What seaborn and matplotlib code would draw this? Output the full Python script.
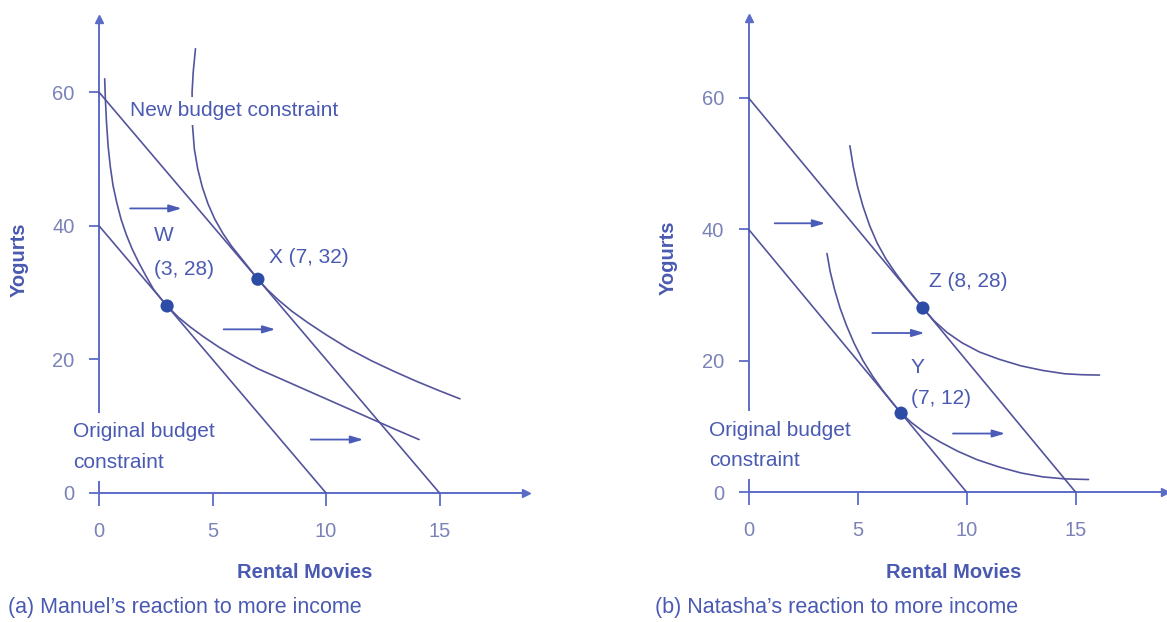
import matplotlib
matplotlib.use("Agg")
import matplotlib.pyplot as plt
import seaborn as sns

sns.set_style("white")
plt.rcParams["font.family"] = ["Liberation Sans", "DejaVu Sans"]

# budget constraints (same in both panels)
orig_budget_x = [0, 10]
orig_budget_y = [40, 0]
new_budget_x = [0, 15]
new_budget_y = [60, 0]

# (a) Manuel - indifference curves
manuel_ic1_x = [0.25, 0.28, 0.33, 0.4, 0.5, 0.62, 0.78, 0.97, 1.2, 1.45, 1.75, 2.05, 2.4, 2.7, 3.0,
                3.5, 4.0, 4.6, 5.3, 6.0, 7.0, 8.0, 9.0, 10.0, 11.0, 12.0, 13.0, 14.1]
manuel_ic1_y = [62, 59, 55.5, 52, 48.8, 46, 43.5, 41, 38.7, 36.6, 34.5, 32.6, 30.5, 29.2, 28.0,
                26.3, 24.9, 23.4, 21.8, 20.4, 18.6, 17.1, 15.6, 14.1, 12.6, 11.1, 9.6, 8.0]
manuel_ic2_x = [4.25, 4.15, 4.1, 4.12, 4.2, 4.35, 4.55, 4.8, 5.1, 5.45, 5.85, 6.3, 6.7, 7.0, 7.4,
                7.9, 8.5, 9.2, 10.0, 11.0, 12.0, 13.0, 14.0, 15.0, 15.9]
manuel_ic2_y = [66.5, 63, 60, 55, 51.5, 48.5, 45.8, 43.3, 41.0, 38.9, 36.9, 35.0, 33.3, 32.0, 30.5,
                28.9, 27.2, 25.5, 23.7, 21.6, 19.8, 18.2, 16.7, 15.3, 14.1]
manuel_pts_x = [3, 7]
manuel_pts_y = [28, 32]

# (b) Natasha
natasha_ic1_x = [3.6, 3.75, 3.95, 4.2, 4.5, 4.85, 5.25, 5.7, 6.15, 6.6, 7.0, 7.5, 8.1, 8.8, 9.6,
                 10.5, 11.5, 12.5, 13.5, 14.5, 15.6]
natasha_ic1_y = [36.3, 33.5, 30.8, 28.0, 25.3, 22.6, 20.0, 17.6, 15.5, 13.6, 12.0, 10.5, 9.0, 7.6, 6.2,
                 4.9, 3.8, 2.9, 2.3, 2.0, 1.9]
natasha_ic2_x = [4.65, 4.8, 5.0, 5.25, 5.55, 5.9, 6.3, 6.75, 7.2, 7.6, 8.0, 8.5, 9.1, 9.8, 10.6,
                 11.5, 12.5, 13.5, 14.5, 15.3, 16.1]
natasha_ic2_y = [52.7, 49.6, 46.5, 43.5, 40.6, 37.9, 35.5, 33.3, 31.3, 29.65, 28.0, 26.1, 24.3, 22.7, 21.3,
                 20.2, 19.2, 18.5, 18.0, 17.85, 17.8]
natasha_pts_x = [7, 8]
natasha_pts_y = [12, 28]

x_ticks = [0, 5, 10, 15]
y_ticks = [0, 20, 40, 60]

AXIS = "#5a6cc8"
CURVE = "#54549c"
DOT = "#2d4ca6"
TEXT = "#4a5ab2"
TICK = "#7a82b8"

fig = plt.figure(figsize=(11.67, 6.22), dpi=100)
ax1 = fig.add_axes([0.00703, 0.12148, 0.44350, 0.84843])
ax2 = fig.add_axes([0.56667, 0.12450, 0.43152, 0.84712])


def setup_axes(ax, xmax, ymax):
    ax.set_xlim(-4, xmax)
    ax.set_ylim(-8, ymax)
    ax.patch.set_alpha(0)
    for s in ["top", "right"]:
        ax.spines[s].set_visible(False)
    ax.spines["left"].set_position(("data", 0))
    ax.spines["bottom"].set_position(("data", 0))
    ax.spines["left"].set_bounds(0, ymax)
    ax.spines["bottom"].set_bounds(0, xmax)
    for s in ["left", "bottom"]:
        ax.spines[s].set_color(AXIS)
        ax.spines[s].set_linewidth(1.4)
    ax.set_xticks(x_ticks)
    ax.set_yticks(y_ticks)
    ax.tick_params(left=True, bottom=True, direction="out", width=1.3, color=AXIS,
                   labelcolor=TICK, labelsize=14.5)
    ax.tick_params(axis="x", length=9, pad=12)
    ax.tick_params(axis="y", length=7.5, pad=10)
    ax.plot(1, 0, ">", transform=ax.get_yaxis_transform(), clip_on=False, color=AXIS, ms=6)
    ax.plot(0, 1, "^", transform=ax.get_xaxis_transform(), clip_on=False, color=AXIS, ms=6)


def draw_lines(ax, ic1_x, ic1_y, ic2_x, ic2_y, pts_x, pts_y):
    line_kw = dict(color=CURVE, lw=1.2, solid_joinstyle="round")
    sns.lineplot(x=orig_budget_x, y=orig_budget_y, ax=ax, zorder=4, **line_kw)
    sns.lineplot(x=new_budget_x, y=new_budget_y, ax=ax, zorder=4, **line_kw)
    sns.lineplot(x=ic1_x, y=ic1_y, ax=ax, sort=False, estimator=None, zorder=2, **line_kw)
    sns.lineplot(x=ic2_x, y=ic2_y, ax=ax, sort=False, estimator=None, zorder=2, **line_kw)
    sns.scatterplot(x=pts_x, y=pts_y, ax=ax, s=90, color=DOT, edgecolor="none", zorder=5)


def shift_arrow(ax, x0, x1, y):
    ax.annotate("", xy=(x1, y), xytext=(x0, y),
                arrowprops=dict(arrowstyle="-|>,head_length=0.5,head_width=0.15",
                                color="#4a5cb8", lw=1.3, shrinkA=0, shrinkB=0,
                                mutation_scale=15))


box = dict(boxstyle="square,pad=0.45", fc="white", ec="none")

# ---- (a) Manuel
setup_axes(ax1, 18.8, 71)
draw_lines(ax1, manuel_ic1_x, manuel_ic1_y, manuel_ic2_x, manuel_ic2_y, manuel_pts_x, manuel_pts_y)
ax1.text(1.37, 57.2, "New budget constraint", fontsize=15, color=TEXT, va="center",
         bbox=dict(boxstyle="square,pad=0.2", fc="white", ec="none"), zorder=3)
ax1.text(2.41, 38.5, "W", fontsize=15, color=TEXT, va="center")
ax1.text(2.41, 33.5, "(3, 28)", fontsize=15, color=TEXT, va="center")
ax1.text(7.47, 35.3, "X (7, 32)", fontsize=15, color=TEXT, va="center")
ax1.text(-1.15, 9.2, "Original budget", fontsize=15, color=TEXT, va="center", bbox=box, zorder=3)
ax1.text(-1.15, 4.6, "constraint", fontsize=15, color=TEXT, va="center", bbox=box, zorder=3)
shift_arrow(ax1, 1.37, 3.64, 42.6)
shift_arrow(ax1, 5.49, 7.77, 24.5)
shift_arrow(ax1, 9.33, 11.64, 8.0)
ax1.set_xlabel("Rental Movies", fontsize=14.5, fontweight="bold", color=TEXT)
ax1.xaxis.set_label_coords(9.07, -11.9, transform=ax1.transData)
ax1.xaxis.label.set_va("center")
ax1.set_ylabel("Yogurts", fontsize=14.5, fontweight="bold", color=TEXT)
ax1.yaxis.set_label_coords(-3.52, 34.9, transform=ax1.transData)
ax1.yaxis.label.set_va("center")

# ---- (b) Natasha
setup_axes(ax2, 19.1, 72.2)
draw_lines(ax2, natasha_ic1_x, natasha_ic1_y, natasha_ic2_x, natasha_ic2_y, natasha_pts_x, natasha_pts_y)
ax2.text(8.27, 32.0, "Z (8, 28)", fontsize=15, color=TEXT, va="center")
ax2.text(7.45, 18.9, "Y", fontsize=15, color=TEXT, va="center")
ax2.text(7.45, 14.2, "(7, 12)", fontsize=15, color=TEXT, va="center")
ax2.text(-1.8, 9.4, "Original budget", fontsize=15, color=TEXT, va="center", bbox=box, zorder=3)
ax2.text(-1.8, 4.8, "constraint", fontsize=15, color=TEXT, va="center", bbox=box, zorder=3)
shift_arrow(ax2, 1.2, 3.52, 40.9)
shift_arrow(ax2, 5.68, 8.07, 24.2)
shift_arrow(ax2, 9.38, 11.77, 8.9)
ax2.set_xlabel("Rental Movies", fontsize=14.5, fontweight="bold", color=TEXT)
ax2.xaxis.set_label_coords(9.42, -12.3, transform=ax2.transData)
ax2.xaxis.label.set_va("center")
ax2.set_ylabel("Yogurts", fontsize=14.5, fontweight="bold", color=TEXT)
ax2.yaxis.set_label_coords(-3.67, 35.6, transform=ax2.transData)
ax2.yaxis.label.set_va("center")

fig.text(8 / 1167, 1 - 608 / 622, "(a) Manuel\u2019s reaction to more income",
         fontsize=15.5, color=TEXT, va="center")
fig.text(655 / 1167, 1 - 608 / 622, "(b) Natasha\u2019s reaction to more income",
         fontsize=15.5, color=TEXT, va="center")

fig.savefig("out.png", dpi=100)
